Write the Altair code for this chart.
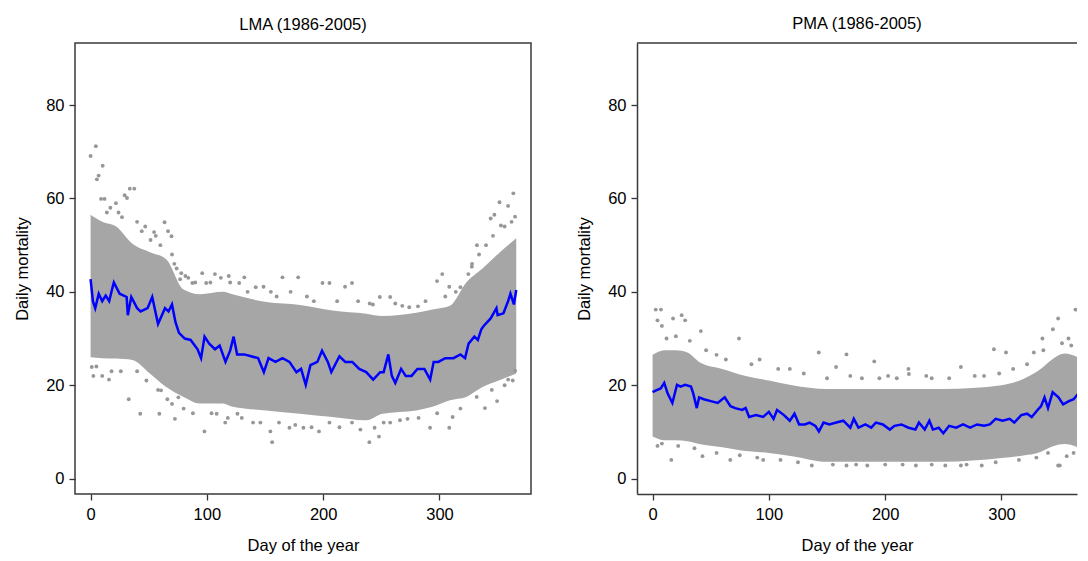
import altair as alt
import pandas as pd

# ---------------- data ----------------
# LMA: daily mean (blue line)
LMA_LINE_DAY = [0, 2, 4, 7, 10, 13, 16, 19, 20, 25, 31, 32, 35, 40, 43, 49, 53, 58, 64, 67, 70, 73, 76,
                81, 86, 92, 95, 98, 102, 107, 111, 116, 120, 123, 126, 132, 138, 144, 149, 153, 159,
                165, 171, 177, 181, 185, 189, 195, 199, 204, 207, 214, 219, 225, 231, 237, 243, 249,
                252, 256, 259, 262, 267, 271, 276, 281, 287, 292, 295, 299, 305, 312, 318, 322, 325,
                330, 333, 336, 338, 344, 349, 350, 355, 359, 361, 364, 366]
LMA_LINE_VAL = [42.7, 38.0, 36.5, 39.6, 38.0, 39.2, 38.0, 41.1, 42.0, 39.6, 38.9, 35.0, 38.9, 36.5,
                35.8, 36.5, 38.9, 33.1, 36.5, 35.8, 37.3, 33.5, 31.2, 30.0, 29.7, 27.7, 25.8, 30.4,
                28.9, 27.7, 28.5, 25.0, 27.4, 30.4, 26.6, 26.6, 26.2, 25.8, 22.8, 25.8, 25.0, 25.8,
                25.0, 22.8, 23.5, 20.1, 24.3, 25.0, 27.4, 25.0, 22.8, 26.2, 25.0, 25.0, 23.5, 22.8,
                21.2, 22.8, 22.8, 26.6, 22.0, 20.5, 23.5, 22.0, 22.0, 23.5, 23.5, 21.2, 25.0, 25.0,
                25.8, 25.8, 26.6, 25.8, 28.9, 30.4, 29.7, 32.0, 32.7, 34.3, 36.5, 35.0, 35.4, 38.0,
                39.6, 37.3, 40.4]

# LMA: dense band of daily counts (lower / upper edge)
LMA_BAND_DAY = [0, 10, 22, 36, 51, 65, 80, 94, 114, 122, 151, 180, 208, 237, 251, 280, 294, 309,
                323, 337, 352, 366]
LMA_BAND_LO = [26.0, 25.8, 25.7, 25.4, 22.5, 19.6, 17.5, 16.1, 16.1, 15.4, 14.6, 13.9, 13.2, 12.5,
               13.9, 14.6, 15.4, 16.8, 17.5, 19.6, 21.1, 22.5]
LMA_BAND_HI = [56.5, 55.0, 54.0, 50.3, 48.5, 47.0, 40.5, 39.5, 40.0, 39.5, 37.8, 37.2, 36.0, 35.3,
               34.8, 35.5, 36.2, 37.0, 42.0, 45.0, 48.5, 51.5]

# LMA: scattered days outside the dense band
LMA_OUT_DAY = [0, 4.5, 5.4, 6.9, 10.4, 9, 12, 21.8, 29.3, 33.7, 37.6, 31.3, 66.6, 63.6, 54.6, 51.6,
               69.6, 106.9, 118.8, 127.8, 148.7, 165, 178.5, 199.4, 205.4, 224.8, 218.8, 257.6, 274,
               281.5, 297.9, 302.4, 308.4, 332.2, 347.2, 351.6, 359, 363.5, 365, 352.8, 344, 327.8,
               324.8, 242.7, 248.7, 87.5, 99.4, 132.2, 77, 81.5,
               14, 17, 24, 27, 40, 44, 47, 56, 60, 70, 72, 74, 78, 84, 90, 96, 103, 112, 120, 135,
               142, 155, 160, 172, 186, 192, 212, 230, 240, 262, 268, 288, 305, 314, 318, 328, 334,
               340, 346, 356, 362,
               1, 2.4, 10, 15.8, 32.8, 42.7, 59.1, 60.6, 72.5, 75.5, 97.9, 108.4, 115.8, 126.3,
               139.7, 156.1, 154.6, 171, 183, 196.4, 205.4, 224.8, 239.7, 248, 244.2, 257.6, 272.5,
               291.9, 308.4, 311.3, 339.1, 349.5, 359, 365,
               5, 18, 26, 40, 48, 58, 66, 70, 80, 88, 104, 118, 130, 146, 162, 176, 190, 214, 232,
               252, 266, 282, 298, 318, 332, 345, 356, 363]
LMA_OUT_VAL = [69.1, 71.2, 64.1, 64.9, 67.0, 59.9, 59.9, 59.0, 60.7, 62.1, 62.1, 60.1, 53.0, 54.9,
               52.8, 51.1, 51.9, 43.8, 43.4, 41.9, 41.1, 43.1, 43.1, 41.9, 41.9, 41.9, 41.1, 38.9,
               36.7, 36.9, 42.3, 43.8, 41.1, 50.0, 56.5, 59.2, 58.4, 61.1, 56.1, 54.2, 55.7, 45.4,
               43.8, 37.3, 38.9, 41.9, 41.9, 43.1, 42.7, 43.4,
               57, 58, 57, 56, 55, 53, 54, 52, 50, 48, 46, 45, 44, 43, 42, 44, 42, 43, 42, 40,
               41, 40, 39, 40, 39, 38, 38, 38, 37.5, 37.5, 37, 38, 39, 40, 41, 46, 48,
               50, 52, 54, 55,
               23.9, 22.0, 22.0, 21.2, 17.0, 13.9, 13.9, 18.9, 12.8, 17.4, 10.1, 13.9, 12.0, 13.9,
               12.0, 7.8, 10.1, 10.9, 10.9, 10.1, 12.0, 12.0, 7.8, 9.0, 10.9, 12.0, 12.8, 10.9,
               10.9, 13.2, 15.1, 16.6, 21.2, 23.1,
               24, 23, 23, 23, 21, 19, 17, 16, 15, 14, 14, 13, 13, 12, 12, 11.5, 11, 11, 10.5,
               12, 12.5, 13, 14, 15, 17.5, 19, 20, 21]

# PMA: daily mean (blue line)
PMA_LINE_DAY = [0, 3, 7, 10, 13, 17, 21, 24, 28, 33, 35, 38, 40, 44, 50, 56, 62, 67, 71, 77, 80, 83,
                89, 95, 100, 104, 107, 113, 118, 122, 126, 131, 135, 140, 143, 147, 152, 158, 164,
                170, 173, 177, 183, 188, 192, 198, 204, 208, 214, 220, 226, 229, 234, 238, 241, 246,
                250, 255, 261, 267, 273, 279, 285, 290, 295, 301, 307, 311, 317, 322, 326, 331, 334,
                337, 340, 344, 349, 353, 358, 362, 366]
PMA_LINE_VAL = [18.5, 18.9, 19.3, 20.5, 18.2, 16.2, 20.1, 19.7, 20.1, 19.7, 18.2, 15.1, 17.4, 17.0,
                16.6, 16.2, 17.4, 15.5, 15.1, 14.7, 15.1, 13.2, 13.6, 13.2, 14.3, 12.8, 14.7, 13.6,
                12.4, 13.9, 11.6, 11.6, 12.0, 11.3, 10.1, 12.0, 11.6, 12.0, 12.4, 10.9, 12.8, 10.9,
                11.6, 10.9, 12.0, 11.6, 10.5, 11.3, 11.6, 10.9, 10.5, 12.0, 10.5, 12.4, 10.5, 10.9,
                9.7, 11.3, 10.9, 11.6, 10.9, 11.6, 11.3, 11.6, 12.8, 12.4, 12.8, 12.0, 13.6, 13.9,
                13.2, 14.7, 15.5, 17.4, 15.1, 18.5, 17.4, 15.9, 16.6, 17.0, 18.2]

# PMA: dense band of daily counts (lower / upper edge)
PMA_BAND_DAY = [0, 10, 20, 30, 40, 60, 80, 100, 120, 150, 200, 250, 300, 320, 331, 345, 354, 366]
PMA_BAND_LO = [9.0, 8.2, 8.2, 8.0, 7.4, 6.7, 5.9, 5.5, 4.8, 3.6, 3.6, 3.6, 4.4, 5.0, 5.5, 7.0, 7.4, 6.7]
PMA_BAND_HI = [26.5, 27.5, 27.5, 27.0, 25.0, 23.5, 22.0, 21.0, 20.0, 19.2, 19.2, 19.2, 20.0, 21.5,
               23.0, 25.8, 26.8, 26.0]

# PMA: scattered days outside the dense band
PMA_OUT_DAY = [2.7, 7.2, 4.2, 8, 17.6, 25, 28, 74.3, 41.5, 142.9, 166.7, 190.6, 157.8, 202.5, 220.4,
               265.1, 293.5, 303.9, 327.8, 344.2, 348.7, 363.6, 335.2, 357.6, 220, 235.3, 277,
               12, 20, 32, 46, 55, 63, 85, 92, 108, 118, 130, 150, 170, 180, 195, 210, 240, 255,
               285, 298, 310, 322, 336, 352, 360,
               4.2, 16.1, 42.9, 66.8, 95.1, 136.9, 166.7, 184.6, 226.4, 251.7, 265.1, 283, 348.7,
               350.1, 356.1,
               8, 22, 36, 55, 75, 90, 110, 125, 155, 175, 200, 215, 240, 270, 295, 315, 330, 340, 362]
PMA_OUT_VAL = [36.2, 36.2, 33.9, 32.7, 34.3, 35.0, 33.9, 30.0, 31.6, 27.0, 26.6, 25.1, 23.9, 22.0,
               22.4, 23.9, 27.7, 27.0, 27.0, 32.0, 34.3, 36.2, 30.0, 30.0, 23.5, 22.0, 22.0,
               30, 30.5, 29.5, 27.5, 26.5, 25.5, 24.5, 25.5, 23.5, 23.5, 22.5, 21.5, 22, 21.5, 21.5,
               21.5, 21.5, 21.5, 22, 22.5, 23.5, 24.5, 27.5, 29, 28.5,
               7.0, 4.0, 4.8, 4.0, 4.0, 2.8, 2.8, 2.8, 2.8, 2.8, 2.8, 2.8, 2.8, 2.8, 4.8,
               7.5, 7, 6.5, 5.5, 5, 4.5, 4, 3.5, 3, 3, 3, 3, 3, 3, 3.5, 4, 4.5, 5.5, 5.5]

TITLES = ["LMA (1986-2005)", "PMA (1986-2005)"]
X_TICKS = [0, 100, 200, 300]
Y_TICKS = [0, 20, 40, 60, 80]

# ---------------- styling ----------------
FONT = "Liberation Sans"
FS = 16.5
DOT = "#979797"
BAND = "#a6a6a6"
BLUE = "#0000ff"
FRAME = "#3a3a3a"
X0 = -13.4
PX_PER_DAY = 1.163
Y_DOMAIN = [-3.3, 93.3]
PLOT_H = 451


def panel(title, line_day, line_val, band_day, band_lo, band_hi, out_day, out_val, width, open_right):
    xs = alt.Scale(domain=[X0, X0 + width / PX_PER_DAY], nice=False, zero=False)
    ys = alt.Scale(domain=Y_DOMAIN, nice=False, zero=False)
    xax = alt.Axis(values=X_TICKS, title="Day of the year", grid=False, domain=open_right,
                   domainColor=FRAME, domainWidth=1.5,
                   tickSize=6, tickWidth=1.3, tickColor="#333333", labelPadding=6,
                   titlePadding=15, labelFont=FONT, titleFont=FONT, labelFontSize=FS,
                   titleFontSize=FS, titleFontWeight="normal", labelColor="black",
                   titleColor="black", format="d")
    yax = alt.Axis(values=Y_TICKS, title="Daily mortality", grid=False, domain=open_right,
                   domainColor=FRAME, domainWidth=1.5,
                   tickSize=6, tickWidth=1.3, tickColor="#333333", labelPadding=5,
                   titlePadding=15, labelFont=FONT, titleFont=FONT, labelFontSize=FS,
                   titleFontSize=FS, titleFontWeight="normal", labelColor="black",
                   titleColor="black", format="d")
    band_df = pd.DataFrame({"day": band_day, "lo": band_lo, "hi": band_hi})
    out_df = pd.DataFrame({"day": out_day, "mort": out_val})
    line_df = pd.DataFrame({"day": line_day, "mort": line_val})

    band = alt.Chart(band_df).mark_area(color=BAND, interpolate="monotone", opacity=1, clip=True).encode(
        x=alt.X("day:Q", scale=xs, axis=xax),
        y=alt.Y("lo:Q", scale=ys, axis=yax),
        y2="hi:Q",
    )
    pts = alt.Chart(out_df).mark_circle(size=15, color=DOT, opacity=1, clip=True).encode(
        x=alt.X("day:Q", scale=xs),
        y=alt.Y("mort:Q", scale=ys),
    )
    line = alt.Chart(line_df).mark_line(color=BLUE, strokeWidth=2.5, clip=True).encode(
        x=alt.X("day:Q", scale=xs),
        y=alt.Y("mort:Q", scale=ys),
    )
    layers = [band, pts, line]
    props = dict(
        width=width,
        height=PLOT_H,
        title=alt.TitleParams(title, font=FONT, fontSize=FS, fontWeight="normal",
                              color="black", anchor="middle", offset=10),
    )
    if open_right:
        top = alt.Chart(pd.DataFrame({"k": [0]})).mark_rule(color=FRAME, strokeWidth=1.5).encode(
            x=alt.value(0), x2=alt.value(width), y=alt.value(0)
        )
        layers.append(top)
        props["view"] = alt.ViewBackground(stroke=None)
    return alt.layer(*layers).properties(**props)


left = panel(TITLES[0], LMA_LINE_DAY, LMA_LINE_VAL, LMA_BAND_DAY, LMA_BAND_LO, LMA_BAND_HI,
             LMA_OUT_DAY, LMA_OUT_VAL, 456, False)
right = panel(TITLES[1], PMA_LINE_DAY, PMA_LINE_VAL, PMA_BAND_DAY, PMA_BAND_LO, PMA_BAND_HI,
              PMA_OUT_DAY, PMA_OUT_VAL, 440, True)

chart = alt.hconcat(left, right, spacing=44).properties(
    padding={"left": 5, "top": 7, "right": 0, "bottom": 0},
    background="white",
).configure_view(stroke=FRAME, strokeWidth=1.5)

chart.save("out.html", embed_options={"renderer": "svg", "actions": False})
